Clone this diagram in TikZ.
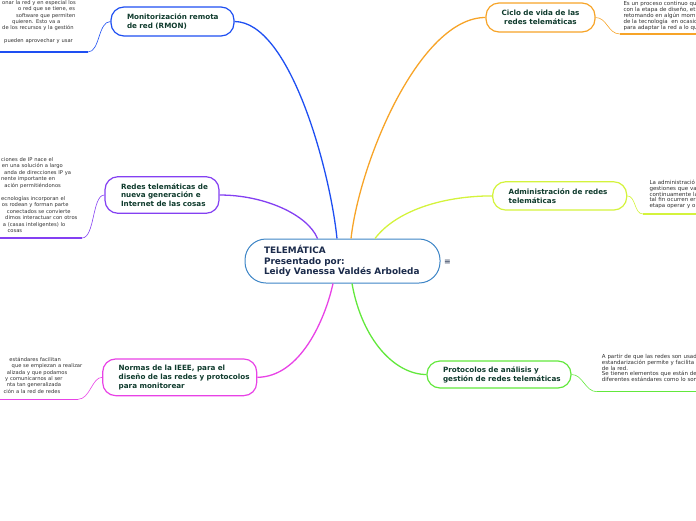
\documentclass[tikz,border=0pt]{standalone}
\usepackage{fontspec}
\setmainfont{DejaVu Sans}
\definecolor{cblue}{HTML}{1E4FF2}
\definecolor{corange}{HTML}{F7A428}
\definecolor{cpurple}{HTML}{8440F2}
\definecolor{cyellow}{HTML}{D4F33C}
\definecolor{cmagenta}{HTML}{E842E6}
\definecolor{cgreen}{HTML}{62E83C}
\definecolor{ccentral}{HTML}{3D85C6}
\definecolor{nodetext}{HTML}{0F3B2D}
\definecolor{centraltext}{HTML}{1B2B4B}
\definecolor{notetext}{HTML}{303030}
\begin{document}
\begin{tikzpicture}[x=1pt,y=-1pt,
  topic/.style={draw, line width=1.2pt, rounded corners=13pt, fill=white, text=nodetext,
    font=\fontsize{7.2}{8.8}\selectfont\bfseries, inner xsep=16pt, inner ysep=0pt, align=left},
  note/.style={anchor=base west, inner sep=0pt, align=left, text width=200pt, text=notetext},
  conn/.style={line width=1.3pt},
  twig/.style={line width=0.6pt},
  uline/.style={line width=1.4pt}]
\useasboundingbox (0,0) rectangle (696,520);

% central
\node[draw=ccentral, line width=1pt, rounded corners=21pt, fill=white, text=centraltext,
  font=\fontsize{8.9}{10.5}\selectfont\bfseries, align=left, text width=157pt,
  inner xsep=19pt, inner ysep=0pt, minimum height=44pt] (central) at (342.5,261)
  {TELEMÁTICA\\Presentado por:\\\mbox{Leidy Vanessa Valdés Arboleda}};
\node[text=centraltext, font=\fontsize{8}{8}\selectfont, inner sep=0pt] (menu) at (447.5,262) {≡};

% topics
\node[topic, draw=cblue, text width=91pt, minimum height=29pt] (rmon) at (172.5,21.5)
  {\mbox{Monitorización remota}\\\mbox{de red (RMON)}};
\node[topic, draw=cpurple, text width=82pt, minimum height=36.6pt] (redes) at (162,195)
  {\mbox{Redes telemáticas de}\\\mbox{nueva generación e}\\\mbox{Internet de las cosas}};
\node[topic, draw=cmagenta, text width=122pt, minimum height=36.7pt] (normas) at (179.7,377.3)
  {\mbox{Normas de la IEEE, para el}\\\mbox{diseño de las redes y protocolos}\\\mbox{para monitorear}};
\node[topic, draw=corange, align=center, inner xsep=14pt, text width=81pt, minimum height=29pt] (ciclo) at (540.5,17.5)
  {\mbox{Ciclo de vida de las}\\\mbox{redes telemáticas}};
\node[topic, draw=cyellow, text width=102pt, minimum height=28.3pt] (admin) at (559.7,195.9)
  {\mbox{Administración de redes}\\\mbox{telemáticas}};
\node[topic, draw=cgreen, text width=112pt, minimum height=27pt] (proto) at (499,374.5)
  {\mbox{Protocolos de análisis y}\\\mbox{gestión de redes telemáticas}};

% main connectors
\draw[conn, cblue] ([xshift=-5.5pt]central.north) .. controls (330,170) and (290,22) .. (rmon.east);
\draw[conn, corange] ([xshift=8.5pt]central.north) .. controls (360,160) and (420,17.5) .. (ciclo.west);
\draw[conn, cpurple] ([xshift=-25pt]central.north) .. controls (308,215) and (265,195) .. (redes.east);
\draw[conn, cyellow] ([xshift=32.5pt]central.north) .. controls (395,212) and (440,196) .. (admin.west);
\draw[conn, cmagenta] ([xshift=-9.5pt]central.south) .. controls (325,320) and (300,377) .. (normas.east);
\draw[conn, cgreen] ([xshift=9.5pt]central.south) .. controls (362,340) and (395,374.5) .. (proto.west);

% twigs and underlines
\coordinate (rmonu) at (88,52); \coordinate (rmonl) at (0,52);
\draw[twig, cblue] (rmon.west) .. controls (98,21.5) and (100,52) .. (rmonu);
\draw[uline, cblue] (rmonu) -- (rmonl);
\coordinate (redesu) at (82,238); \coordinate (redesl) at (0,238);
\draw[twig, cpurple] (redes.west) .. controls (92,195) and (95,238) .. (redesu);
\draw[uline, cpurple] (redesu) -- (redesl);
\coordinate (normasu) at (78,399.3); \coordinate (normasl) at (0,399.3);
\draw[twig, cmagenta] (normas.west) .. controls (92,377.3) and (90,399.3) .. (normasu);
\draw[uline, cmagenta] (normasu) -- (normasl);
\coordinate (ciclou) at (620,34); \coordinate (ciclor) at (696,34);
\draw[twig, corange] (ciclo.east) .. controls (607,17.5) and (608,34) .. (ciclou);
\draw[uline, corange] (ciclou) -- (ciclor);
\coordinate (adminu) at (643,214); \coordinate (adminr) at (696,214);
\draw[twig, cyellow] (admin.east) .. controls (636,196) and (634,214) .. (adminu);
\draw[uline, cyellow] (adminu) -- (adminr);
\coordinate (protou) at (597,391.7); \coordinate (protor) at (696,391.7);
\draw[twig, cgreen] (proto.east) .. controls (583,374.5) and (585,391.7) .. (protou);
\draw[uline, cgreen] (protou) -- (protor);

% notes
\node[note, font=\fontsize{5.2}{6.3}\selectfont] (rmontext) at (0,4.5)
  {\hspace*{2pt}onar la red y en especial los\\
   \hspace*{18pt}o red que se tiene, es\\
   \hspace*{16pt}software que permiten\\
   \hspace*{12pt}quieren. Esto va a\\
   \hspace*{2pt}de los recursos y la gestión\\
   \mbox{}\\
   \hspace*{4pt}pueden aprovechar y usar};
\node[note, font=\fontsize{5.2}{6.45}\selectfont] (redestext) at (0,161.5)
  {\hspace*{1pt}ciones de IP nace el\\
   \hspace*{1.7pt}en una solución a largo\\
   \hspace*{4pt}anda de direcciones IP ya\\
   \hspace*{1pt}nente importante en\\
   \hspace*{4.3pt}ación permitiéndonos\\
   \mbox{}\\
   \hspace*{1pt}ecnologías incorporan el\\
   \hspace*{1.7pt}os rodean y forman parte\\
   \hspace*{6.7pt}conectados se convierte\\
   \hspace*{5pt}dimos interactuar con otros\\
   \hspace*{2.7pt}a (casas inteligentes) lo\\
   \hspace*{7.3pt}cosas};
\node[note, font=\fontsize{5.2}{6.3}\selectfont] (normastext) at (0,361.5)
  {\hspace*{9.3pt}estándares facilitan\\
   \hspace*{11.5pt}que se empiezan a realizar\\
   \hspace*{6.7pt}alizada y que podamos\\
   \hspace*{5pt}y comunicarnos al ser\\
   \hspace*{6.7pt}nta tan generalizada\\
   \hspace*{3.3pt}ción a la red de redes};
\node[note, font=\fontsize{5.5}{6}\selectfont] (ciclotext) at (623.3,5.5)
  {Es un proceso continuo qu\\
   con la etapa de diseño, et\\
   retomando en algún mom\\
   de la tecnología\ \ en ocasic\\
   para adaptar la red a lo qu};
\node[note, font=\fontsize{5.5}{5.7}\selectfont] (admintext) at (649.3,184.8)
  {La administració\\
   gestiones que va\\
   continuamente la\\
   tal fin ocurren er\\
   etapa operar y op};
\node[note, font=\fontsize{5.5}{5.6}\selectfont] (prototext) at (601.7,358.8)
  {A partir de que las redes son usad\\
   estandarización permite y facilita\\
   de la red.\\
   Se tienen elementos que están de\\
   diferentes estándares como lo son};
\end{tikzpicture}
\end{document}
